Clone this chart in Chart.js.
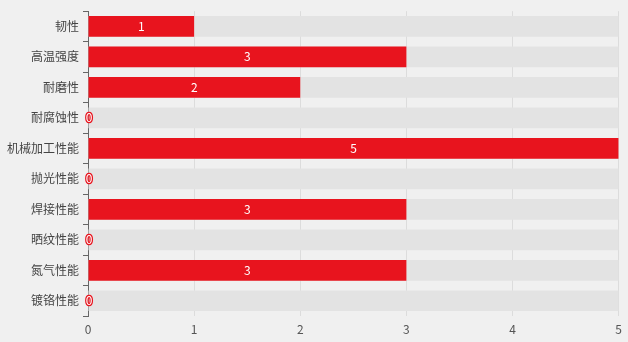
<!DOCTYPE html>
<html><head><meta charset="utf-8">
<script src="https://cdn.jsdelivr.net/npm/chart.js@4/dist/chart.umd.min.js"></script>
<style>html,body{margin:0;padding:0;background:#f0f0f0;}#wrap{width:628px;height:342px;}</style>
</head><body><div id="wrap"><canvas id="c"></canvas></div>
<script>
const categories = ['韧性','高温强度','耐磨性','耐腐蚀性','机械加工性能','抛光性能','焊接性能','晒纹性能','氮气性能','镀铬性能'];
const values = [1,3,2,0,5,0,3,0,3,0];
const maxValue = 5;
const xTicks = [0,1,2,3,4,5];
const FONT = '"Noto Sans CJK SC", "Noto Sans", sans-serif';

const labelPlugin = {
  id: 'barLabels',
  afterDatasetsDraw(chart) {
    const ctx = chart.ctx;
    const meta = chart.getDatasetMeta(1);
    ctx.save();
    ctx.font = '12px ' + FONT;
    ctx.textAlign = 'center';
    ctx.textBaseline = 'middle';
    meta.data.forEach((bar, i) => {
      const v = values[i];
      const txt = String(v);
      if (v === 0) {
        ctx.lineWidth = 2.5;
        ctx.strokeStyle = '#e8141e';
        ctx.lineJoin = 'round';
        ctx.strokeText(txt, bar.base + 1, bar.y);
        ctx.fillStyle = '#ffffff';
        ctx.fillText(txt, bar.base + 1, bar.y);
      } else {
        ctx.fillStyle = '#ffffff';
        ctx.fillText(txt, (bar.x + bar.base) / 2, bar.y);
      }
    });
    ctx.restore();
  }
};

new Chart(document.getElementById('c'), {
  type: 'bar',
  data: {
    labels: categories,
    datasets: [
      { data: categories.map(() => maxValue), backgroundColor: '#e3e3e3', grouped: false, order: 2,
        barPercentage: 0.68, categoryPercentage: 1 },
      { data: values, backgroundColor: '#e8141e', grouped: false, order: 1,
        barPercentage: 0.68, categoryPercentage: 1 }
    ]
  },
  options: {
    indexAxis: 'y',
    responsive: true,
    maintainAspectRatio: false,
    animation: false,
    layout: { autoPadding: false, padding: { top: 8, right: 8, left: 0, bottom: 0 } },
    plugins: { legend: { display: false }, tooltip: { enabled: false } },
    scales: {
      x: {
        min: 0, max: maxValue,
        afterBuildTicks(s) { s.ticks = xTicks.map(v => ({ value: v })); },
        afterFit(s) { s.height = 26; },
        grid: { color: '#dcdcdc', drawTicks: false },
        border: { display: false },
        ticks: { color: '#555', font: { family: FONT, size: 12 }, padding: 6 }
      },
      y: {
        afterFit(s) { s.width = 88; },
        grid: { drawOnChartArea: false, drawTicks: true, tickLength: 5, color: '#666', offset: true },
        border: { display: true, color: '#666' },
        ticks: { color: '#444', font: { family: FONT, size: 12 }, padding: 4 }
      }
    }
  },
  plugins: [labelPlugin]
});
</script>
</body></html>
